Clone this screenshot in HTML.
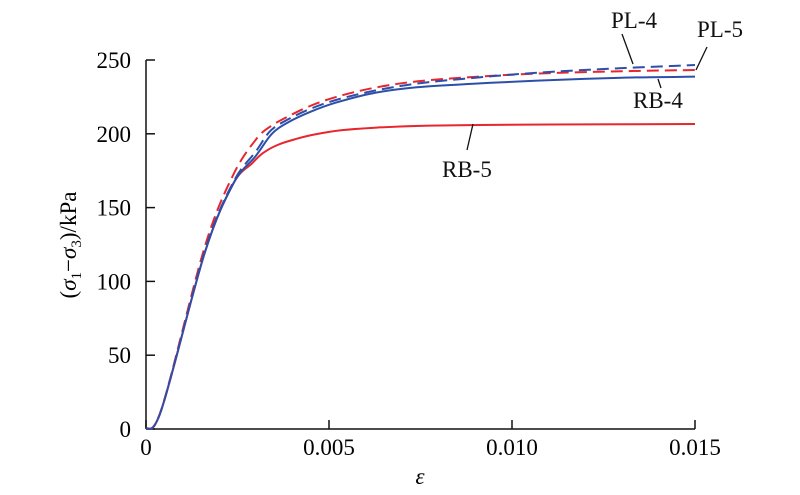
<!DOCTYPE html>
<html><head><meta charset="utf-8"><style>
body{margin:0;background:#fff}
svg{display:block;font-family:"Liberation Serif",serif}
</style></head><body>
<svg width="800" height="495" viewBox="0 0 800 495">
<g id="axes"></g>
<g id="series"></g>
<g font-size="23" fill="#111">
<text x="611" y="28">PL-4</text>
<line x1="622" y1="34" x2="633" y2="64" stroke="#111" stroke-width="1.3"/>
<text x="697" y="37">PL-5</text>
<line x1="707" y1="47" x2="696" y2="70" stroke="#111" stroke-width="1.3"/>
<text x="633" y="108">RB-4</text>
<line x1="661" y1="88" x2="658" y2="79" stroke="#111" stroke-width="1.3"/>
<text x="442" y="177">RB-5</text>
<line x1="467" y1="150" x2="473" y2="124" stroke="#111" stroke-width="1.3"/>
</g>
<text font-size="23" transform="translate(76,245) rotate(-90)" text-anchor="middle">(<tspan font-style="italic">σ</tspan><tspan font-size="15" dy="5">1</tspan><tspan dy="-5">−</tspan><tspan font-style="italic">σ</tspan><tspan font-size="15" dy="5">3</tspan><tspan dy="-5">)/kPa</tspan></text>
<text font-size="23" font-style="italic" x="420" y="484" text-anchor="middle">ε</text>
</svg>
<script>
const xTicks=[0,0.005,0.010,0.015];
const xTickLabels=["0","0.005","0.010","0.015"];
const yTicks=[0,50,100,150,200,250];
const rb4X=[0,0.00043,0.0016,0.00238,0.0030,0.00344,0.0039,0.0045,0.00517,0.0062,0.0074,0.0090,0.0107,0.013,0.015];
const rb4Y=[0,13.8,119,166,185,200,208,215,221,227.5,231.5,234,236,238,238.7];
const rb5X=[0,0.00043,0.0016,0.00238,0.0029,0.0032,0.0036,0.0041,0.0046,0.0053,0.0063,0.0075,0.0091,0.012,0.015];
const rb5Y=[0,13.8,119,166,180,187,192.5,196.5,199.5,202.3,204.2,205.4,206,206.4,206.6];
const pl4X=[0,0.00043,0.0016,0.00238,0.0030,0.0034,0.0039,0.0045,0.0052,0.0062,0.0074,0.009,0.0107,0.013,0.015];
const pl4Y=[0,13.8,120,167,188,202,210,217,223,229,234,238,241.4,244.5,246.6];
const pl5X=[0,0.00043,0.0016,0.00238,0.0030,0.0034,0.0039,0.0045,0.0052,0.0062,0.0074,0.009,0.0107,0.013,0.015];
const pl5Y=[0,14,123,172,196,205,212,219,225,231,235.5,238.6,240.8,242.4,243.2];
const NS="http://www.w3.org/2000/svg";
const X=v=>146+v/0.015*549, Y=v=>429-v/250*369;
const ax=document.getElementById('axes');
function mk(t,a,p){const e=document.createElementNS(NS,t);for(const k in a)e.setAttribute(k,a[k]);p.appendChild(e);return e;}
const xl=mk('line',{x1:146,y1:429,x2:695,y2:429,stroke:'#111','stroke-width':1.5},ax);


const yl=mk('line',{x1:146,y1:429,x2:146,y2:60,stroke:'#111','stroke-width':1.5},ax);


xTicks.forEach((v,i)=>{
 mk('line',{x1:X(v),y1:429,x2:X(v),y2:420,stroke:'#111','stroke-width':1.5},ax);
 const t=mk('text',{x:X(v),y:455,'font-size':23,'text-anchor':'middle'},ax);t.textContent=xTickLabels[i];
 
 
});
yTicks.forEach(v=>{
 mk('line',{x1:146,y1:Y(v),x2:155,y2:Y(v),stroke:'#111','stroke-width':1.5},ax);
 const t=mk('text',{x:131,y:Y(v)+8,'font-size':23,'text-anchor':'end'},ax);t.textContent=String(v);
 
 
});
const sg=document.getElementById('series');
function smooth(xs,ys){
 const P=xs.map((x,i)=>[X(x),Y(ys[i])]);
 let d='M'+P[0][0]+','+P[0][1];
 for(let i=0;i<P.length-1;i++){
  const p0=P[Math.max(0,i-1)],p1=P[i],p2=P[i+1],p3=P[Math.min(P.length-1,i+2)];
  const c1=[p1[0]+(p2[0]-p0[0])/6,p1[1]+(p2[1]-p0[1])/6];
  const c2=[p2[0]-(p3[0]-p1[0])/6,p2[1]-(p3[1]-p1[1])/6];
  d+=' C'+c1[0]+','+c1[1]+' '+c2[0]+','+c2[1]+' '+p2[0]+','+p2[1];
 }
 return d;
}
function line(xs,ys,col,dash,name){
 const p=mk('path',{d:smooth(xs,ys),fill:'none',stroke:col,'stroke-width':2,'stroke-dasharray':dash||'none'},sg);
 
 
}
line(rb5X,rb5Y,'#e8262e','', 'series-rb-5');
line(rb4X,rb4Y,'#2d4fa8','', 'series-rb-4');
line(pl5X,pl5Y,'#e8262e','12,6','series-pl-5');
line(pl4X,pl4Y,'#2d4fa8','12,6','series-pl-4');
</script>
</body></html>
